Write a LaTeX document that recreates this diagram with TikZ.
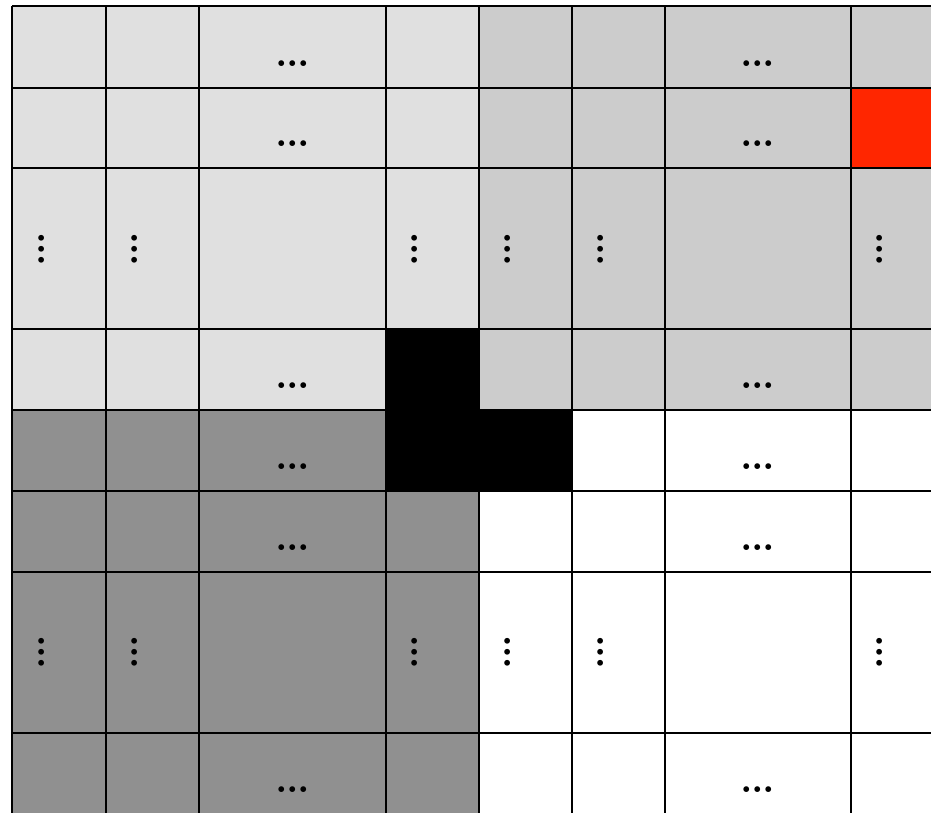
\documentclass[tikz,border=0pt]{standalone}
\definecolor{lightg}{HTML}{E0E0E0}
\definecolor{midg}{HTML}{CCCCCC}
\definecolor{darkg}{HTML}{909090}
\definecolor{redc}{HTML}{FF2600}
\newcommand{\mydotsh}{{\fontsize{40}{40}\selectfont\bfseries .\kern-1.76pt.\kern-1.76pt.}}
\begin{document}
\begin{tikzpicture}[x=1pt,y=-1pt,
  gridline/.style={line width=2.5pt,black},
  dotnode/.style={inner sep=0pt,outer sep=0pt,anchor=center},
  vdotnode/.style={dotnode,rotate=90}]
\useasboundingbox (0,0) rectangle (931,812);
\clip (0,0) rectangle (931,812);
% fills
\fill[lightg] (12,6) rectangle (479,410);
\fill[midg] (479,6) rectangle (940,410);
\fill[darkg] (12,410) rectangle (479,820);
\fill[white] (479,410) rectangle (940,820);
\fill[black] (386,329) rectangle (479,491);
\fill[black] (479,410) rectangle (572,491);
\fill[redc] (851,88) rectangle (940,168);
% grid
\foreach \x in {12,106,199,386,479,572,665,851}
  \draw[gridline] (\x,6) -- (\x,820);
\foreach \y in {6,88,168,329,410,491,572,733}
  \draw[gridline] (12,\y) -- (940,\y);
% horizontal dots
\foreach \y/\n in {64/1,144/2,386/4,467/5,548/6,790/8}{
  \node[dotnode] (hl\n) at (293,\y) {\mydotsh};
  \node[dotnode] (hr\n) at (758,\y) {\mydotsh};
}
% vertical dots
\foreach \x/\c in {42/1,135/2,415/4,508/5,601/6,880/8}{
  \node[vdotnode] (vt\c) at (\x,249) {\mydotsh};
  \node[vdotnode] (vb\c) at (\x,652) {\mydotsh};
}
\end{tikzpicture}
\end{document}
